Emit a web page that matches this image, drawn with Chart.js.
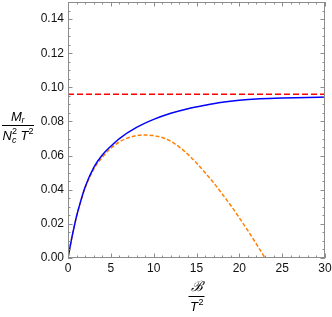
<!DOCTYPE html>
<html>
<head>
<meta charset="utf-8">
<script src="https://cdn.jsdelivr.net/npm/chart.js@4.4.1/dist/chart.umd.min.js"></script>
<style>
  html, body { margin: 0; padding: 0; background: #fff; }
</style>
</head>
<body>
<canvas id="chart" width="332" height="317"></canvas>
<script>
const xTicks = [0, 5, 10, 15, 20, 25, 30];
const yTicks = [0, 0.02, 0.04, 0.06, 0.08, 0.10, 0.12, 0.14];

// full result (blue)
const fullB = [0, 0.25, 0.5, 0.75, 1, 1.5, 2, 3, 4, 5, 6, 8, 10, 12, 14, 16, 18, 20, 22, 25, 28, 30];
const fullM = [0, 0.0068, 0.0132, 0.0190, 0.0245, 0.0336, 0.0416, 0.0530, 0.0603, 0.0655, 0.0700, 0.0765, 0.0812, 0.0848, 0.0875, 0.0895, 0.0912, 0.0924, 0.0932, 0.0937, 0.0941, 0.0943];

// expansion (orange dashed)
const approxB = [0, 0.25, 0.5, 0.75, 1, 1.5, 2, 3, 4, 5, 6, 7, 8, 9, 10, 11, 12, 13, 14, 15, 16, 17, 18, 19, 20, 21, 22, 23];
const approxM = [0, 0.0068, 0.0132, 0.0190, 0.0245, 0.0334, 0.0412, 0.0520, 0.0590, 0.0643, 0.0680, 0.0704, 0.0717, 0.0721, 0.0717, 0.0706, 0.0684, 0.0650, 0.0607, 0.0557, 0.0500, 0.0441, 0.0375, 0.0308, 0.0235, 0.0160, 0.0081, 0];

// asymptote (red dashed)
const limitB = [0, 30];
const limitM = [0.096, 0.096];

const pts = (xs, ys) => xs.map((x, i) => ({ x, y: ys[i] }));

const frameColor = '#8c8c8c';

const framePlugin = {
  id: 'frame',
  afterDraw(chart) {
    const { ctx, chartArea: a, scales: { x, y } } = chart;
    ctx.save();
    ctx.strokeStyle = frameColor;
    ctx.lineWidth = 1;
    ctx.strokeRect(a.left + 0.5, a.top + 0.5, a.right - a.left - 1, a.bottom - a.top - 1);

    ctx.beginPath();
    for (let v = 0; v <= 30; v += 1) {
      const px = Math.round(x.getPixelForValue(v)) + 0.5;
      const len = v % 5 === 0 ? 4.5 : 2.5;
      ctx.moveTo(px, a.bottom); ctx.lineTo(px, a.bottom - len);
      ctx.moveTo(px, a.top); ctx.lineTo(px, a.top + len);
    }
    for (let i = 0; i <= 30; i++) {
      const v = i * 0.005;
      const py = Math.round(y.getPixelForValue(v)) + 0.5;
      const len = i % 4 === 0 ? 4.5 : 2.5;
      ctx.moveTo(a.left, py); ctx.lineTo(a.left + len, py);
      ctx.moveTo(a.right, py); ctx.lineTo(a.right - len, py);
    }
    ctx.stroke();

    // axis titles
    ctx.fillStyle = '#000';
    ctx.textBaseline = 'alphabetic';
    const itI = 'italic 13px "Liberation Sans", Arial, sans-serif';
    const sub = 'italic 9px "Liberation Sans", Arial, sans-serif';
    const sup = '9px "Liberation Sans", Arial, sans-serif';

    // y title: M_r / (N_c^2 T^2)
    ctx.fillRect(2, 125, 32, 1);
    ctx.font = itI; ctx.textAlign = 'left';
    ctx.fillText('M', 11, 121);
    ctx.font = sub;
    ctx.fillText('r', 21.5, 123);
    ctx.font = itI;
    ctx.fillText('N', 2.5, 140);
    ctx.font = sub;
    ctx.fillText('c', 12, 143);
    ctx.font = sup;
    ctx.fillText('2', 12, 134);
    ctx.font = itI;
    ctx.fillText('T', 20.5, 140);
    ctx.font = sup;
    ctx.fillText('2', 28.5, 134);

    // x title: B / T^2
    const cx = (a.left + a.right) / 2;
    ctx.fillRect(cx - 8, 296, 16, 1);
    ctx.font = 'italic 14px "DejaVu Serif", serif';
    ctx.textAlign = 'center';
    ctx.fillText('\u212C', cx, 291);
    ctx.font = itI;
    ctx.fillText('T', cx - 2.5, 311);
    ctx.font = sup; ctx.textAlign = 'left';
    ctx.fillText('2', cx + 2, 305);
    ctx.restore();
  }
};

new Chart(document.getElementById('chart'), {
  type: 'line',
  data: {
    datasets: [
      {
        data: pts(limitB, limitM),
        borderColor: '#ff0000',
        borderWidth: 1.5,
        borderDash: [6, 3],
        pointRadius: 0,
      },
      {
        data: pts(fullB, fullM),
        borderColor: '#0000ff',
        borderWidth: 1.5,
        cubicInterpolationMode: 'monotone',
        pointRadius: 0,
      },
      {
        data: pts(approxB, approxM),
        borderColor: '#ff8000',
        borderWidth: 1.5,
        borderDash: [4, 2],
        cubicInterpolationMode: 'monotone',
        pointRadius: 0,
      },
    ]
  },
  options: {
    responsive: false,
    animation: false,
    devicePixelRatio: 1,
    layout: { padding: { left: 0, right: 7, top: 2, bottom: 0 } },
    plugins: { legend: { display: false }, tooltip: { enabled: false } },
    scales: {
      x: {
        type: 'linear', min: 0, max: 30,
        grid: { display: false, drawTicks: false },
        border: { display: false },
        afterBuildTicks: s => { s.ticks = xTicks.map(v => ({ value: v })); },
        afterFit: s => { s.height = 59; s.paddingLeft = 0; s.paddingRight = 0; },
        ticks: {
          padding: 3, color: '#111', maxRotation: 0,
          font: { family: '"Liberation Sans", Arial, sans-serif', size: 12 },
          callback: v => String(v)
        }
      },
      y: {
        type: 'linear', min: 0, max: 0.15,
        grid: { display: false, drawTicks: false },
        border: { display: false },
        afterBuildTicks: s => { s.ticks = yTicks.map(v => ({ value: v })); },
        afterFit: s => { s.width = 68; s.paddingTop = 0; s.paddingBottom = 0; },
        ticks: {
          padding: 4, color: '#111',
          font: { family: '"Liberation Sans", Arial, sans-serif', size: 12 },
          callback: v => v.toFixed(2)
        }
      }
    }
  },
  plugins: [framePlugin]
});
</script>
</body>
</html>
